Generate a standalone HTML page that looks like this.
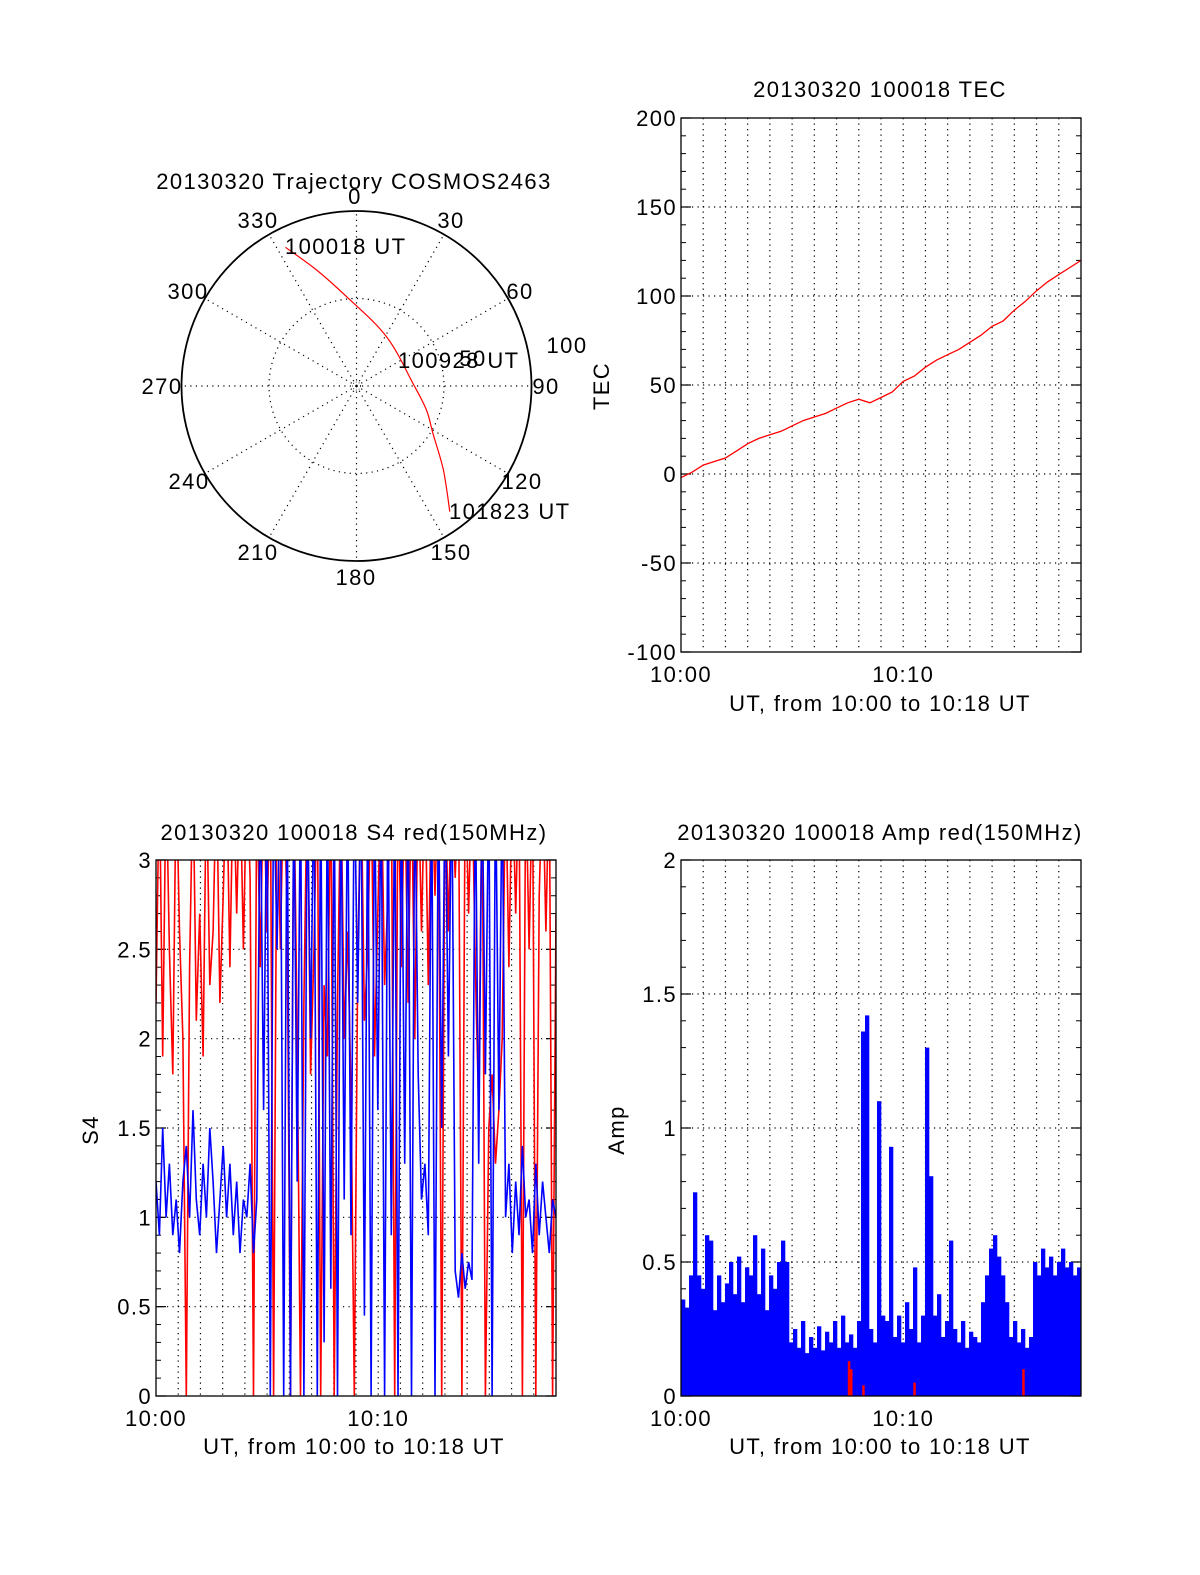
<!DOCTYPE html>
<html><head><meta charset="utf-8"><style>
html,body{margin:0;padding:0;background:#fff;}
svg{display:block;font-family:"Liberation Sans",sans-serif;}
svg text{letter-spacing:1.4px;}
</style></head><body>
<svg id="fig" width="1200" height="1575" viewBox="0 0 1200 1575" xmlns="http://www.w3.org/2000/svg">
<rect width="1200" height="1575" fill="#fff"/>
</svg>
<script>
// ---------- data ----------
const tecTimes = [0,0.5,1,1.5,2,2.5,3,3.5,4,4.5,5,5.5,6,6.5,7,7.5,8,8.5,9,9.5,10,10.5,11,11.5,12,12.5,13,13.5,14,14.5,15,15.5,16,16.5,17,17.5,18];
const tecValues = [-2,1,5,7,9,13,17,20,22,24,27,30,32,34,37,40,42,40,43,46,52,55,60,64,67,70,74,78,83,86,92,97,103,108,112,116,120];
const tecYTicks = [-100,-50,0,50,100,150,200];
const xTickLabels = ["10:00","10:10"];
const xTickMinutes = [0,10];

const s4Blue = [1.2,0.9,1.5,1.0,1.3,0.9,1.1,0.8,1.2,1.4,1.0,1.6,1.1,0.9,1.3,1.0,1.5,1.2,0.8,1.1,1.4,1.0,1.3,0.9,1.2,0.8,1.1,1.0,1.3,0.8,1.1,
 3.5,1.6,3.5,0,3.5,2.5,3.5,0,3.5,0,3.5,1.2,3.5,0,3.5,2.0,3.5,0,3.5,0.3,3.5,0.6,3.5,0,3.5,1.1,3.5,0.9,3.5,2.2,3.5,0.45,3.5,0,3.5,1.6,3.5,0,3.5,0.9,3.5,0,3.5,1.3,3.5,0,3.5,1.8,
 1.1,1.3,0.9,
 3.5,0,3.5,1.5,3.5,1.9,3.5,
 0.7,0.55,0.8,0.6,0.75,0.65,
 3.5,1.3,3.5,1.8,3.5,0,3.5,1.6,3.5,
 1.0,1.3,0.8,1.2,0.9,1.4,1.0,1.1,0.8,1.3,0.9,1.2,1.0,0.8,1.1,1.0];
const s4Red = [2.2,3.5,1.9,3.5,2.5,1.8,3.5,2.6,2.0,0,2.4,3.5,2.1,2.7,1.9,3.5,2.3,2.6,3.5,2.2,2.8,3.5,2.4,3.5,2.7,3.5,2.5,3.5,2.9,0,
 3.5,2.4,3.5,2.6,3.5,0,3.5,2.5,3.5,2.7,0,3.5,2.0,0,2.2,3.5,1.8,2.5,3.5,0,
 2.3,1.9,3.5,0,2.2,3.5,2.0,2.6,1.7,0,2.4,3.5,2.1,2.5,3.5,1.9,2.7,3.5,2.3,2.8,
 3.5,0,3.5,2.4,3.5,2.2,3.5,2.0,3.5,2.6,3.5,2.3,3.5,2.8,3.5,0,3.5,2.6,3.5,2.9,
 3.5,0,3.5,2.7,3.5,2.4,1.6,3.5,0,1.5,1.8,1.3,1.6,2.0,3.5,2.4,3.5,2.7,3.5,0,
 3.5,2.5,3.5,0,2.8,3.5,2.6,3.5,0,2.7];
const s4YTicks = [0,0.5,1,1.5,2,2.5,3];
const s4YLabels = ["0","0.5","1","1.5","2","2.5","3"];

const ampBlue = [0.36,0.33,0.45,0.76,0.45,0.4,0.6,0.58,0.32,0.45,0.35,0.42,0.5,0.38,0.52,0.35,0.48,0.45,0.6,0.38,0.55,0.32,0.45,0.4,0.5,0.58,0.5,
 0.2,0.25,0.18,0.28,0.16,0.22,0.18,0.26,0.17,0.24,0.2,0.28,0.18,0.3,0.2,0.23,0.18,0.28,
 1.36,1.42,0.25,0.2,1.1,0.3,0.28,0.93,0.22,0.3,0.2,0.35,0.25,0.48,0.2,0.3,1.3,0.82,
 0.3,0.38,0.22,0.28,0.58,0.25,0.2,0.28,0.18,0.24,0.22,0.2,
 0.35,0.45,0.55,0.6,0.52,0.45,0.35,0.22,0.28,0.2,0.25,0.18,0.22,
 0.5,0.45,0.55,0.48,0.52,0.45,0.5,0.55,0.48,0.5,0.45,0.48];
const ampRedTimes = [7.55,7.65,8.2,10.5,15.4];
const ampRedValues = [0.13,0.1,0.04,0.05,0.1];
const ampYTicks = [0,0.5,1,1.5,2];
const ampYLabels = ["0","0.5","1","1.5","2"];

const trajAz = [332.9,341,353.6,31.3,87,109,121.6,134,143.4];
const trajZen = [89,70.1,51.4,33,32.2,42.3,51.2,69,89.4];
const polarAngles = [0,30,60,90,120,150,180,210,240,270,300,330];

// ---------- helpers ----------
const NS="http://www.w3.org/2000/svg";
const svg=document.getElementById('fig');
function el(tag,attrs,parent){const e=document.createElementNS(NS,tag);for(const k in attrs)e.setAttribute(k,attrs[k]);(parent||svg).appendChild(e);return e;}
function txt(s,x,y,anchor,parent,rot){const t=el('text',{x:x,y:y,'font-size':22,'text-anchor':anchor||'middle',fill:'#000'},parent);if(rot)t.setAttribute('transform',`rotate(-90 ${x} ${y})`);t.textContent=s;return t;}

function axes(name,x0,y0,w,h,ymin,ymax,yTicks,yLabels,minorStep){
  const g=el('g',{});
  
  
  const X=t=>x0+t/18*w, Y=v=>y0+h-(v-ymin)/(ymax-ymin)*h;
  for(let m=1;m<18;m++){const l=el('line',{x1:X(m),x2:X(m),y1:y0,y2:y0+h,stroke:'#000','stroke-width':1.2,'stroke-dasharray':'1.2 4.3'},g);
    }
  yTicks.forEach(v=>{if(v>ymin&&v<ymax){const l=el('line',{x1:x0,x2:x0+w,y1:Y(v),y2:Y(v),stroke:'#000','stroke-width':1.2,'stroke-dasharray':'1.2 4.3'},g);
    }});
  for(let v=ymin;v<=ymax+1e-9;v+=minorStep){const y=Y(v);
    el('line',{x1:x0,x2:x0+5,y1:y,y2:y,stroke:'#000','stroke-width':1},g);
    el('line',{x1:x0+w-5,x2:x0+w,y1:y,y2:y,stroke:'#000','stroke-width':1},g);}
  yTicks.forEach(v=>{el('line',{x1:x0,x2:x0+10,y1:Y(v),y2:Y(v),stroke:'#000','stroke-width':1.2},g);
    el('line',{x1:x0+w-10,x2:x0+w,y1:Y(v),y2:Y(v),stroke:'#000','stroke-width':1.2},g);});
  yTicks.forEach((v,i)=>{const t=txt(yLabels[i],x0-4,Y(v)+8,'end',g);});
  xTickMinutes.forEach((m,i)=>{const t=txt(xTickLabels[i],X(m),y0+h+30,'middle',g);});
  return {g,X,Y,x0,y0,w,h};
}
function frame(a){const r=el('rect',{x:a.x0,y:a.y0,width:a.w,height:a.h,fill:'none',stroke:'#000','stroke-width':1.3},a.g);
  }
function clip(id,a){const d=el('defs',{});const c=el('clipPath',{id:id},d);el('rect',{x:a.x0,y:a.y0,width:a.w,height:a.h},c);}

// ---------- polar ----------
(function(){
  const cx=356.5,cy=386,R=175;
  const g=el('g',{});
  
  
  const t=txt('20130320 Trajectory COSMOS2463',354,189,'middle',g);
  
  polarAngles.forEach(a=>{const r=a*Math.PI/180;
    const l=el('line',{x1:cx,y1:cy,x2:cx+R*Math.sin(r),y2:cy-R*Math.cos(r),stroke:'#000','stroke-width':1.2,'stroke-dasharray':'1.2 4.3'},g);
    });
  const ic=el('circle',{cx:cx,cy:cy,r:R/2,fill:'none',stroke:'#000','stroke-width':1.2,'stroke-dasharray':'1.2 4.3'},g);
  
  const oc=el('circle',{cx:cx,cy:cy,r:R,fill:'none',stroke:'#000','stroke-width':1.8},g);
  
  el('circle',{cx:cx,cy:cy,r:4,fill:'none',stroke:'#000','stroke-width':0.8,'stroke-dasharray':'1 2'},g);
  const lab=[['0',355,204],['30',451,228],['60',520,299],['90',546,394],['120',522,489],['150',451,560],['180',356,585],['210',258,560],['240',189,489],['270',162,394],['300',188,299],['330',258,228]];
  lab.forEach(l=>{const tt=txt(l[0],l[1],l[2],'middle',g);});
  const r50=txt('50',473,366,'middle',g);
  const r100=txt('100',567,353,'middle',g);
  const P=trajAz.map((a,i)=>{const r=a*Math.PI/180,d=trajZen[i]/100*R;return [cx+d*Math.sin(r),cy-d*Math.cos(r)];});
  let d='M'+P[0][0].toFixed(1)+','+P[0][1].toFixed(1);
  for(let i=0;i<P.length-1;i++){
    const p0=P[Math.max(0,i-1)],p1=P[i],p2=P[i+1],p3=P[Math.min(P.length-1,i+2)];
    const c1=[p1[0]+(p2[0]-p0[0])/6,p1[1]+(p2[1]-p0[1])/6],c2=[p2[0]-(p3[0]-p1[0])/6,p2[1]-(p3[1]-p1[1])/6];
    d+=` C${c1[0].toFixed(1)},${c1[1].toFixed(1)} ${c2[0].toFixed(1)},${c2[1].toFixed(1)} ${p2[0].toFixed(1)},${p2[1].toFixed(1)}`;
  }
  const p=el('path',{d:d,fill:'none',stroke:'#f00','stroke-width':1.2},g);
  
  [['100018 UT',285,254],['100928 UT',398,368],['101823 UT',449,519]].forEach(l=>{const tt=txt(l[0],l[1],l[2],'start',g);});
})();

// ---------- TEC ----------
(function(){
  const a=axes('tec-plot',681,118,400,534,-100,200,tecYTicks,tecYTicks.map(String),10);
  clip('ctec',a);
  const pts=tecTimes.map((t,i)=>a.X(t).toFixed(1)+','+a.Y(tecValues[i]).toFixed(1)).join(' ');
  const p=el('polyline',{points:pts,fill:'none',stroke:'#f00','stroke-width':1.3,'clip-path':'url(#ctec)'},a.g);
  
  frame(a);
  const t=txt('20130320 100018 TEC',880,97,'middle',a.g);
  const xt=txt('UT, from 10:00 to 10:18 UT',880,711,'middle',a.g);
  const yt=txt('TEC',609,386,'middle',a.g,true);
})();

// ---------- S4 ----------
(function(){
  const a=axes('s4-plot',156,860,400,536,0,3,s4YTicks,s4YLabels,0.1);
  clip('cs4',a);
  const n=s4Red.length;
  const redPts=s4Red.map((v,i)=>a.X(i*18/(n-1)).toFixed(1)+','+a.Y(v).toFixed(1)).join(' ');
  const r=el('polyline',{points:redPts,fill:'none',stroke:'#f00','stroke-width':1.6,'clip-path':'url(#cs4)'},a.g);
  
  const m=s4Blue.length;
  const bluePts=s4Blue.map((v,i)=>a.X(i*18/(m-1)).toFixed(1)+','+a.Y(v).toFixed(1)).join(' ');
  const b=el('polyline',{points:bluePts,fill:'none',stroke:'#00f','stroke-width':1.6,'clip-path':'url(#cs4)'},a.g);
  
  frame(a);
  const t=txt('20130320 100018 S4 red(150MHz)',354,840,'middle',a.g);
  const xt=txt('UT, from 10:00 to 10:18 UT',354,1454,'middle',a.g);
  const yt=txt('S4',98,1130,'middle',a.g,true);
})();

// ---------- Amp ----------
(function(){
  const a=axes('amp-plot',681,860,400,536,0,2,ampYTicks,ampYLabels,0.1);
  clip('camp',a);
  const n=ampBlue.length, bw=a.w/n;
  ampBlue.forEach((v,i)=>{
    const b=el('rect',{x:(a.x0+i*bw).toFixed(2),y:a.Y(v).toFixed(1),width:(bw+0.3).toFixed(2),height:(a.Y(0)-a.Y(v)).toFixed(1),fill:'#00f','clip-path':'url(#camp)'},a.g);
    
    
  });
  ampRedTimes.forEach((t,i)=>{
    const b=el('rect',{x:(a.X(t)-1).toFixed(1),y:a.Y(ampRedValues[i]).toFixed(1),width:2.5,height:(a.Y(0)-a.Y(ampRedValues[i])).toFixed(1),fill:'#f00'},a.g);
    
    
  });
  frame(a);
  const t=txt('20130320 100018 Amp red(150MHz)',880,840,'middle',a.g);
  const xt=txt('UT, from 10:00 to 10:18 UT',880,1454,'middle',a.g);
  const yt=txt('Amp',624,1130,'middle',a.g,true);
})();
</script>
</body></html>
